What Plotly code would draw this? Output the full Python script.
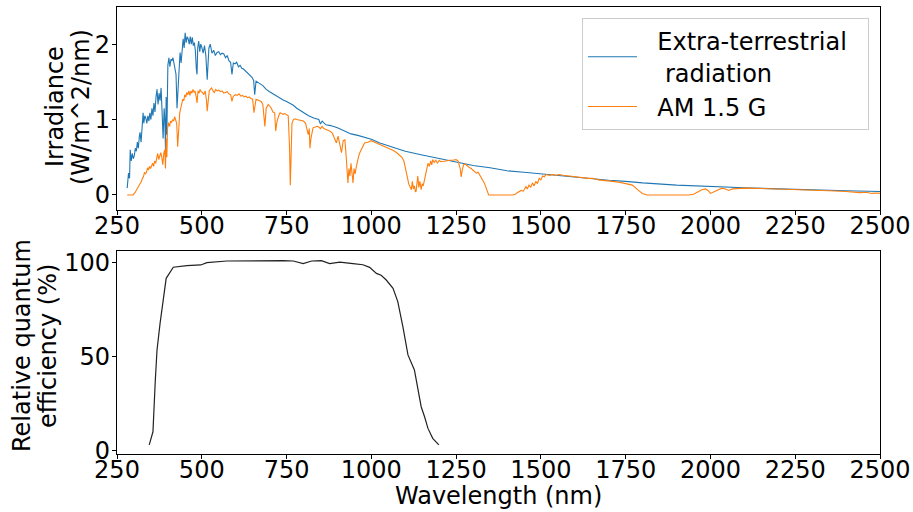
import plotly.graph_objects as go
from plotly.subplots import make_subplots

# ---------------- data ----------------
etr_wl = [280, 284, 287, 289, 292, 295, 298, 301, 304, 307, 310, 313, 316, 318, 321, 324, 327, 329,
          332, 335, 338, 341, 344, 347, 350, 353, 356, 359, 362, 365, 368, 371, 374, 377, 380, 383,
          386, 389, 391, 393, 395, 397, 400, 403, 406, 409, 412, 415, 418, 421, 424, 427, 430, 433,
          436, 439, 442, 445, 448, 451, 454, 457, 460, 463, 466, 469, 472, 475, 478, 481, 484, 486,
          488, 491, 494, 497, 500, 504, 508, 512, 516, 518, 521, 525, 530, 535, 540, 545, 550, 555,
          560, 565, 570, 575, 580, 585, 589, 593, 598, 603, 608, 613, 618, 623, 628, 633, 638, 643,
          648, 653, 656, 660, 665, 670, 680, 690, 700, 710, 720, 730, 740, 750, 760, 770, 780, 790,
          800, 815, 830, 845, 850, 855, 866, 880, 900, 920, 940, 960, 980, 1000, 1025, 1050, 1075,
          1100, 1150, 1200, 1250, 1300, 1350, 1400, 1450, 1500, 1550, 1600, 1650, 1700, 1750, 1800,
          1900, 2000, 2100, 2200, 2300, 2400, 2500]
etr_val = [0.09, 0.29, 0.22, 0.6, 0.45, 0.55, 0.48, 0.52, 0.62, 0.58, 0.7, 0.62, 0.78, 0.83, 0.7, 0.9,
           1.09, 0.95, 1.05, 1.02, 0.95, 1.05, 0.98, 1.09, 1.0, 1.15, 1.05, 1.22, 1.1, 1.3, 1.4, 1.2,
           1.35, 1.25, 1.42, 1.1, 0.75, 1.15, 1.0, 0.6, 1.3, 0.8, 1.72, 1.82, 1.7, 1.8, 1.78, 1.82,
           1.75, 1.72, 1.6, 1.15, 1.45, 1.8, 1.89, 1.75, 1.98, 2.07, 1.95, 2.15, 2.02, 2.1, 2.07, 2.0,
           2.1, 2.0, 2.09, 1.98, 2.02, 1.92, 1.67, 1.6, 1.95, 2.04, 1.9, 2.0, 1.96, 1.88, 1.98, 1.85,
           1.53, 1.7, 1.95, 2.0, 1.88, 1.92, 1.85, 1.89, 1.9, 1.86, 1.88, 1.87, 1.82, 1.85, 1.78, 1.76,
           1.6, 1.75, 1.74, 1.76, 1.7, 1.72, 1.68, 1.67, 1.65, 1.63, 1.6, 1.58, 1.56, 1.52, 1.33, 1.51,
           1.5, 1.48, 1.45, 1.4, 1.37, 1.34, 1.31, 1.28, 1.26, 1.24, 1.22, 1.19, 1.15, 1.12, 1.09, 1.05,
           1.02, 1.0, 0.94, 0.98, 0.93, 0.92, 0.89, 0.85, 0.81, 0.79, 0.76, 0.74, 0.69, 0.65, 0.62,
           0.58, 0.53, 0.48, 0.43, 0.39, 0.36, 0.32, 0.3, 0.28, 0.25, 0.23, 0.21, 0.195, 0.18, 0.16,
           0.13, 0.11, 0.095, 0.08, 0.065, 0.055, 0.045]

am_wl = [280, 290, 297, 303, 308, 314, 318, 322, 325, 328, 331, 334, 337, 340, 343, 346, 349, 352,
         355, 358, 361, 364, 367, 370, 373, 376, 379, 382, 385, 388, 391, 393, 395, 397, 399, 402,
         405, 408, 411, 414, 417, 420, 423, 426, 429, 432, 435, 438, 441, 444, 447, 450, 453, 456,
         459, 462, 465, 468, 471, 474, 477, 480, 484, 486, 489, 492, 495, 498, 502, 506, 510, 514,
         516, 519, 522, 525, 529, 533, 537, 541, 545, 550, 555, 560, 565, 570, 575, 580, 585, 589,
         592, 596, 600, 605, 610, 615, 620, 625, 630, 635, 640, 645, 650, 654, 657, 660, 665, 670,
         675, 680, 686, 690, 696, 700, 705, 710, 715, 718, 722, 727, 731, 735, 740, 745, 750, 755,
         759, 761, 763, 766, 770, 775, 780, 790, 800, 806, 810, 814, 817, 819, 822, 825, 828, 835,
         840, 845, 850, 855, 860, 865, 870, 877, 885, 893, 897, 902, 907, 912, 917, 922, 926, 929,
         931, 934, 937, 940, 943, 946, 949, 952, 956, 960, 963, 966, 970, 975, 980, 990, 995, 1000,
         1005, 1015, 1025, 1035, 1044, 1055, 1065, 1075, 1083, 1090, 1096, 1100, 1103, 1107, 1110,
         1114, 1118, 1121, 1124, 1127, 1130, 1132, 1135, 1137, 1140, 1143, 1147, 1150, 1153, 1157,
         1160, 1164, 1167, 1171, 1175, 1178, 1181, 1185, 1190, 1195, 1200, 1205, 1211, 1220, 1230,
         1240, 1250, 1256, 1262, 1265, 1268, 1272, 1276, 1280, 1285, 1290, 1295, 1299, 1305, 1310,
         1315, 1319, 1324, 1328, 1333, 1338, 1342, 1346, 1417, 1425, 1430, 1436, 1442, 1448, 1452,
         1456, 1460, 1465, 1470, 1475, 1480, 1485, 1490, 1495, 1500, 1505, 1510, 1515, 1525, 1535,
         1545, 1554, 1565, 1580, 1595, 1610, 1625, 1640, 1652, 1670, 1690, 1710, 1730, 1750, 1770,
         1785, 1799, 1813, 1936, 1950, 1966, 1975, 1985, 1993, 2000, 2010, 2020, 2034, 2044, 2054,
         2065, 2083, 2100, 2150, 2200, 2260, 2300, 2350, 2400, 2420, 2426, 2440, 2460, 2475, 2490,
         2500]
am_val = [0.0, 0.0, 0.0, 0.03, 0.07, 0.11, 0.15, 0.18, 0.22, 0.24, 0.3, 0.28, 0.3, 0.36, 0.33, 0.38,
          0.35, 0.4, 0.42, 0.38, 0.45, 0.42, 0.5, 0.55, 0.47, 0.52, 0.56, 0.5, 0.4, 0.55, 0.6, 0.35,
          0.75, 0.5, 0.88, 0.96, 0.91, 0.98, 0.96, 1.0, 0.98, 1.04, 1.0, 0.95, 0.64, 0.9, 1.09, 1.15,
          1.2, 1.27, 1.25, 1.33, 1.3, 1.36, 1.33, 1.38, 1.32, 1.38, 1.35, 1.4, 1.36, 1.38, 1.29, 1.22,
          1.38, 1.35, 1.4, 1.37, 1.36, 1.33, 1.38, 1.25, 1.11, 1.3, 1.38, 1.4, 1.42, 1.38, 1.36, 1.4,
          1.38, 1.39, 1.37, 1.38, 1.35, 1.36, 1.37, 1.34, 1.33, 1.24, 1.3, 1.32, 1.33, 1.32, 1.34,
          1.31, 1.32, 1.3, 1.31, 1.29, 1.3, 1.28, 1.27, 1.09, 1.2, 1.27, 1.26, 1.25, 1.24, 1.2, 0.91,
          1.15, 1.2, 1.18, 1.15, 1.1, 1.09, 0.85, 0.98, 1.05, 1.09, 1.08, 1.07, 1.08, 1.07, 1.05, 0.6,
          0.13, 0.45, 0.95, 1.0, 1.01, 1.0, 0.99, 0.98, 0.95, 0.88, 0.8, 0.88, 0.62, 0.75, 0.85, 0.89,
          0.9, 0.91, 0.9, 0.88, 0.91, 0.88, 0.87, 0.86, 0.85, 0.82, 0.72, 0.69, 0.78, 0.65, 0.56, 0.72,
          0.73, 0.5, 0.3, 0.16, 0.35, 0.25, 0.42, 0.22, 0.16, 0.35, 0.28, 0.38, 0.48, 0.52, 0.56, 0.6,
          0.64, 0.69, 0.7, 0.71, 0.72, 0.71, 0.69, 0.68, 0.66, 0.64, 0.61, 0.59, 0.56, 0.53, 0.5, 0.45,
          0.38, 0.33, 0.22, 0.15, 0.1, 0.07, 0.18, 0.08, 0.12, 0.04, 0.05, 0.2, 0.25, 0.1, 0.18, 0.07,
          0.15, 0.12, 0.2, 0.3, 0.36, 0.42, 0.38, 0.45, 0.4, 0.47, 0.43, 0.46, 0.42, 0.46, 0.44, 0.44,
          0.45, 0.46, 0.46, 0.47, 0.45, 0.35, 0.24, 0.33, 0.4, 0.41, 0.4, 0.38, 0.36, 0.35, 0.33, 0.31,
          0.29, 0.3, 0.27, 0.24, 0.2, 0.16, 0.1, 0.04, 0.0, 0.0, 0.01, 0.03, 0.04, 0.06, 0.05, 0.09,
          0.11, 0.08, 0.13, 0.1, 0.16, 0.12, 0.18, 0.15, 0.22, 0.2, 0.25, 0.24, 0.27, 0.26, 0.27, 0.26,
          0.27, 0.26, 0.25, 0.24, 0.235, 0.23, 0.22, 0.22, 0.2, 0.19, 0.18, 0.17, 0.15, 0.13, 0.07,
          0.02, 0.0, 0.0, 0.01, 0.045, 0.07, 0.08, 0.06, 0.02, 0.04, 0.07, 0.09, 0.08, 0.06, 0.08, 0.09,
          0.09, 0.085, 0.08, 0.07, 0.065, 0.055, 0.045, 0.035, 0.04, 0.03, 0.035, 0.02, 0.025, 0.02]

qe_wl = [345, 356, 363, 368, 377, 387, 395, 416, 456, 497, 515, 574, 652, 740, 770, 799, 824, 853,
         877, 907, 946, 975, 995, 1015, 1029, 1044, 1064, 1078, 1093, 1108, 1127, 1137, 1147, 1157,
         1167, 1181, 1199]
qe_val = [2.9, 9.9, 37.4, 53.3, 67.5, 79.9, 91.4, 97.3, 98.1, 98.5, 99.7, 100.6, 100.8, 100.8, 100.6,
          99.2, 100.6, 100.8, 99.2, 100.0, 99.2, 98.6, 97.2, 94.0, 93.0, 90.5, 86.1, 79.0, 65.7, 50.7,
          42.7, 33.8, 23.2, 17.9, 11.7, 6.4, 2.9]

x_ticks = [250, 500, 750, 1000, 1250, 1500, 1750, 2000, 2250, 2500]
top_y_ticks = [0, 1, 2]
bottom_y_ticks = [0, 50, 100]

# ---------------- figure ----------------
FONT = "DejaVu Sans"
FS = 24
W, H = 913, 512
NB = "\u00a0"

fig = make_subplots(rows=2, cols=1)

fig.add_trace(go.Scatter(x=etr_wl, y=etr_val, mode="lines",
                         name=NB * 2 + "Extra-terrestrial" + NB * 2 + "<br>" + NB * 3 + "radiation",
                         line=dict(color="#1f77b4", width=1.1)), row=1, col=1)
fig.add_trace(go.Scatter(x=am_wl, y=am_val, mode="lines", name=NB * 2 + "AM 1.5 G",
                         line=dict(color="#ff7f0e", width=1.1)), row=1, col=1)
fig.add_trace(go.Scatter(x=qe_wl, y=qe_val, mode="lines", showlegend=False,
                         line=dict(color="#222222", width=1.2)), row=2, col=1)

xdom = [117 / W, 880 / W]
axis_common = dict(showline=True, mirror=True, linecolor="black", linewidth=1.3,
                   ticks="outside", ticklen=4, tickwidth=1.2, tickcolor="black",
                   showgrid=False, zeroline=False, automargin=False,
                   tickfont=dict(family=FONT, size=FS, color="black"))

fig.update_xaxes(range=[250, 2500], tickvals=x_ticks, ticktext=[str(v) for v in x_ticks],
                 domain=xdom, ticklabelstandoff=-10, **axis_common)
fig.update_yaxes(ticklabelstandoff=-3, **axis_common)
fig.update_yaxes(range=[-0.2, 2.5], tickvals=top_y_ticks, domain=[1 - 210 / H, 1 - 6.5 / H],
                 row=1, col=1)
fig.update_yaxes(range=[-1.9, 105.9], tickvals=bottom_y_ticks, domain=[1 - 454 / H, 1 - 251 / H],
                 row=2, col=1)

annots = [
    dict(text="Irradiance", x=55 / W, y=1 - 107 / H, textangle=-90),
    dict(text="(W/m^2/nm)", x=81 / W, y=1 - 107 / H, textangle=-90),
    dict(text="Relative quantum", x=22 / W, y=1 - 346 / H, textangle=-90),
    dict(text="efficiency (%)", x=48 / W, y=1 - 346 / H, textangle=-90),
    dict(text="Wavelength (nm)", x=498.5 / W, y=1 - 496 / H, textangle=0),
]
for a in annots:
    fig.add_annotation(xref="paper", yref="paper", xanchor="center", yanchor="middle",
                       showarrow=False, font=dict(family=FONT, size=FS, color="black"), **a)

fig.update_layout(
    width=W, height=H,
    margin=dict(l=0, r=0, t=0, b=0),
    paper_bgcolor="white", plot_bgcolor="white",
    font=dict(family=FONT, size=FS, color="black"),
    legend=dict(x=869 / W, xanchor="right", y=1 - 18 / H, yanchor="top",
                bgcolor="rgba(255,255,255,0.8)", bordercolor="#cccccc", borderwidth=1,
                font=dict(family=FONT, size=FS, color="black"), itemwidth=49,
                tracegroupgap=0),
)

fig.write_html("out.html")
